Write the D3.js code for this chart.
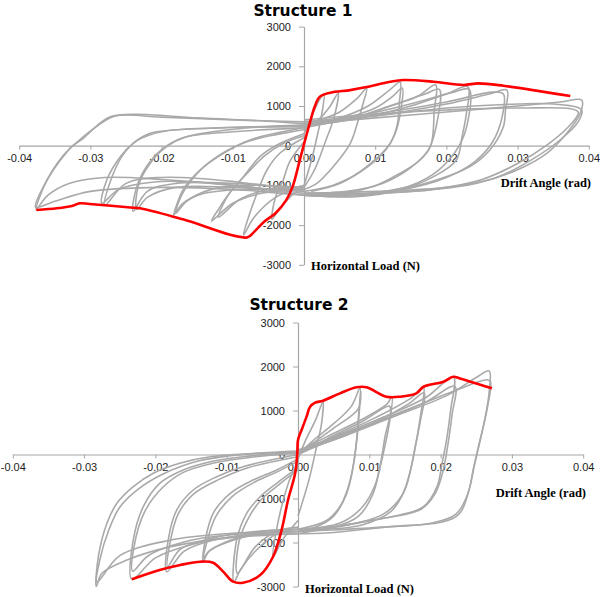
<!DOCTYPE html>
<html>
<head>
<meta charset="utf-8">
<script src="https://cdn.jsdelivr.net/npm/d3@7"></script>
<style>
  body { margin: 0; background: #fff; }
  svg { display: block; }
</style>
</head>
<body>
<svg width="600" height="597"></svg>
<script>

// tick values and labels (shared by both panels)
var xTicks = [-0.04, -0.03, -0.02, -0.01, 0, 0.01, 0.02, 0.03, 0.04];
var xTickLabels = ["-0.04", "-0.03", "-0.02", "-0.01", "0.00", "0.01", "0.02", "0.03", "0.04"];
var yTicks = [-3000, -2000, -1000, 0, 1000, 2000, 3000];
var yTickLabels = ["-3000", "-2000", "-1000", "0", "1000", "2000", "3000"];

// Structure 1 : half cycles [drift (rad), load (N)]
var s1Pos = [
  [[0,300],[0.001,700],[0.002,1100],[0.0028,1300],[0.0025,800],[0.0018,200],[0.001,-400],[0,-1000]],
  [[0,400],[0.002,650],[0.0035,950],[0.0048,1320],[0.0042,700],[0.003,100],[0.0015,-600],[0,-1050]],
  [[0,450],[0.002,630],[0.005,850],[0.0075,1200],[0.0088,1445],[0.0082,1000],[0.0076,630],[0.0065,60],[0.0041,-528],[0.0018,-947],[0,-1100]],
  [[0,500],[0.005,700],[0.009,1000],[0.012,1400],[0.0135,1600],[0.0134,1100],[0.0131,530],[0.0121,60],[0.0088,-528],[0.0051,-947],[0.001,-1150]],
  [[0,450],[0.005,650],[0.01,950],[0.0125,1250],[0.0138,1450],[0.0136,900],[0.0128,300],[0.0115,-100],[0.008,-650],[0.004,-1000],[0,-1150]],
  [[0,500],[0.006,650],[0.012,1000],[0.016,1250],[0.0185,1530],[0.0183,900],[0.0178,0],[0.0163,-360],[0.0135,-695],[0.0097,-1030],[0.0051,-1200],[0,-1200]],
  [[0,500],[0.007,700],[0.013,1050],[0.017,1300],[0.019,1420],[0.0188,700],[0.0175,-100],[0.015,-550],[0.011,-950],[0.006,-1150],[0,-1200]],
  [[0,500],[0.008,700],[0.015,1000],[0.02,1300],[0.023,1486],[0.0228,800],[0.0222,227],[0.0214,-360],[0.0182,-780],[0.0135,-1115],[0.0074,-1285],[0,-1250]],
  [[0,550],[0.009,800],[0.016,1100],[0.021,1350],[0.0232,1420],[0.023,600],[0.0218,0],[0.019,-600],[0.015,-1000],[0.009,-1200],[0,-1250]],
  [[0,550],[0.01,750],[0.02,1050],[0.026,1300],[0.0285,1400],[0.0283,900],[0.028,478],[0.0261,-108],[0.0233,-528],[0.0186,-864],[0.0121,-1158],[0.0051,-1285],[0,-1250]],
  [[0,600],[0.01,800],[0.02,1100],[0.0265,1350],[0.028,1300],[0.0278,700],[0.0265,100],[0.024,-400],[0.02,-800],[0.014,-1100],[0.006,-1250],[0,-1250]],
  [[0,550],[0.01,700],[0.02,850],[0.03,1000],[0.036,1100],[0.039,1150],[0.0388,815],[0.0369,312],[0.0341,-191],[0.0299,-612],[0.0243,-947],[0.0177,-1115],[0.0097,-1200],[0,-1250]],
  [[0,600],[0.01,750],[0.02,950],[0.03,1050],[0.035,1050],[0.039,900],[0.0385,600],[0.036,150],[0.032,-350],[0.027,-800],[0.02,-1050],[0.01,-1150],[0,-1200]],
  [[0,650],[0.01,800],[0.02,900],[0.03,950],[0.0385,850],[0.037,450],[0.034,0],[0.03,-450],[0.025,-850],[0.018,-1100],[0.01,-1200],[0,-1200]]
];
var s1Neg = [
  [[0,-1000],[-0.002,-1300],[-0.0035,-1600],[-0.0045,-1850],[-0.004,-1300],[-0.003,-900],[-0.002,-400],[0,100]],
  [[0,-1000],[-0.004,-1300],[-0.007,-1800],[-0.0085,-2250],[-0.0078,-1800],[-0.0066,-1200],[-0.0052,-612],[-0.0034,-191],[0,200]],
  [[0,-1100],[-0.006,-1200],[-0.01,-1450],[-0.013,-1900],[-0.012,-1600],[-0.0109,-1300],[-0.0085,-780],[-0.0062,-277],[-0.0038,18],[0,300]],
  [[0,-1050],[-0.005,-1100],[-0.009,-1350],[-0.012,-1800],[-0.0105,-1200],[-0.008,-700],[-0.0055,-250],[-0.003,50],[0,250]],
  [[0,-1100],[-0.008,-1100],[-0.014,-1200],[-0.017,-1450],[-0.0183,-1750],[-0.0178,-1450],[-0.017,-1115],[-0.0146,-612],[-0.0113,-191],[-0.0076,144],[0,450]],
  [[0,-1050],[-0.008,-1000],[-0.013,-1100],[-0.0165,-1400],[-0.018,-1700],[-0.0172,-1250],[-0.015,-700],[-0.012,-250],[-0.008,100],[0,400]],
  [[0,-1150],[-0.01,-1050],[-0.018,-1050],[-0.022,-1300],[-0.0235,-1600],[-0.0233,-1030],[-0.0216,-443],[-0.0193,-25],[-0.0165,227],[-0.0086,438],[0,520]],
  [[0,-1100],[-0.01,-950],[-0.018,-950],[-0.022,-1150],[-0.024,-1650],[-0.0236,-1100],[-0.0222,-550],[-0.02,-100],[-0.017,200],[-0.01,350],[0,450]],
  [[0,-1200],[-0.01,-1000],[-0.02,-900],[-0.026,-1100],[-0.0284,-1450],[-0.0277,-864],[-0.0258,-277],[-0.024,60],[-0.0216,312],[-0.0132,438],[0,500]],
  [[0,-1150],[-0.01,-900],[-0.02,-800],[-0.025,-950],[-0.028,-1500],[-0.0272,-900],[-0.0255,-250],[-0.0235,120],[-0.02,350],[-0.012,450],[0,480]],
  [[0,-1250],[-0.01,-1000],[-0.02,-850],[-0.028,-800],[-0.033,-950],[-0.036,-1250],[-0.0376,-1600],[-0.0361,-864],[-0.0329,-65],[-0.031,186],[-0.0287,564],[-0.0272,730],[-0.024,790],[-0.015,700],[-0.0038,605],[0,550]],
  [[0,-1250],[-0.01,-1100],[-0.02,-1050],[-0.03,-1150],[-0.035,-1400],[-0.0377,-1550],[-0.0365,-1000],[-0.0335,-200],[-0.0315,150],[-0.029,500],[-0.0265,750],[-0.02,720],[-0.01,650],[0,600]]
];
var s1Envelope = [[-0.0376,-1620],[-0.0347,-1577],[-0.0326,-1519],[-0.0315,-1451],[-0.0301,-1469],[-0.024,-1561],[-0.023,-1577],
  [-0.017,-1854],[-0.008,-2310],[-0.007,-2170],[-0.0056,-1915],[-0.004,-1700],[-0.0025,-1370],[-0.0016,-1030],[-0.0005,-300],
  [0.0008,560],[0.0015,980],[0.0022,1230],[0.0037,1335],[0.0065,1400],[0.0086,1470],[0.0121,1612],[0.014,1655],
  [0.0182,1612],[0.0224,1530],[0.0245,1570],[0.028,1510],[0.0374,1250]];

// Structure 2 : half cycles [drift (rad), load (N)]
var s2Pos = [
  [[0,-100],[0.001,300],[0.0025,800],[0.0035,1200],[0.0033,700],[0.0025,100],[0.0015,-600],[0,-1400]],
  [[0,0],[0.002,300],[0.005,700],[0.0075,1100],[0.0087,1515],[0.0085,900],[0.0082,300],[0.0077,-300],[0.0068,-900],[0.005,-1400],[0.0025,-1650],[0,-1750]],
  [[0,0],[0.002,250],[0.005,600],[0.0085,1050],[0.0088,1450],[0.0084,600],[0.008,0],[0.0073,-600],[0.006,-1150],[0.004,-1500],[0,-1700]],
  [[0,50],[0.004,400],[0.009,800],[0.0125,1150],[0.0132,1314],[0.0128,700],[0.0122,200],[0.0115,-300],[0.0105,-900],[0.0085,-1400],[0.005,-1650],[0,-1750]],
  [[0,0],[0.004,350],[0.009,750],[0.0128,1100],[0.013,1000],[0.0122,400],[0.0117,-100],[0.0108,-700],[0.009,-1200],[0.006,-1550],[0,-1700]],
  [[0,50],[0.005,400],[0.011,850],[0.016,1300],[0.0176,1540],[0.0172,900],[0.0166,300],[0.016,-200],[0.015,-800],[0.013,-1300],[0.009,-1600],[0.004,-1700],[0,-1750]],
  [[0,0],[0.005,350],[0.011,750],[0.0155,1150],[0.0177,1400],[0.0172,800],[0.0164,150],[0.0157,-400],[0.0145,-950],[0.012,-1350],[0.007,-1600],[0,-1700]],
  [[0,50],[0.006,450],[0.012,850],[0.018,1300],[0.0218,1768],[0.0214,1000],[0.0208,300],[0.0202,-200],[0.0195,-730],[0.0176,-1186],[0.0143,-1375],[0.0083,-1550],[0,-1800]],
  [[0,50],[0.006,400],[0.012,800],[0.018,1200],[0.022,1550],[0.0216,900],[0.021,200],[0.0203,-400],[0.0192,-900],[0.0172,-1250],[0.012,-1450],[0.005,-1650],[0,-1750]],
  [[0,50],[0.007,450],[0.014,900],[0.021,1350],[0.025,1750],[0.0268,1900],[0.0268,1400],[0.0262,800],[0.0252,100],[0.0245,-400],[0.0241,-730],[0.0227,-1337],[0.0204,-1527],[0.0129,-1640],[0.0035,-1790],[0,-1800]],
  [[0,100],[0.008,550],[0.015,1000],[0.022,1450],[0.0265,1700],[0.027,1650],[0.0266,1100],[0.0258,500],[0.0248,-200],[0.0238,-900],[0.0222,-1350],[0.019,-1550],[0.012,-1650],[0,-1750]]
];
var s2Neg = [
  [[0,-1500],[-0.002,-1900],[-0.0035,-2323],[-0.003,-1700],[-0.002,-1000],[-0.001,-500],[0,-200]],
  [[0,-1700],[-0.003,-1800],[-0.006,-2200],[-0.008,-2600],[-0.009,-2900],[-0.0086,-1943],[-0.0072,-1336],[-0.0053,-959],[-0.003,-655],[0,-300]],
  [[0,-1650],[-0.003,-1750],[-0.006,-2100],[-0.0085,-2700],[-0.0083,-2000],[-0.0068,-1400],[-0.005,-1000],[-0.0028,-700],[0,-350]],
  [[0,-1750],[-0.005,-1800],[-0.01,-2000],[-0.0125,-2200],[-0.0133,-2436],[-0.013,-1943],[-0.0119,-1336],[-0.0095,-882],[-0.0063,-580],[-0.003,-352],[0,-100]],
  [[0,-1700],[-0.005,-1750],[-0.0095,-1950],[-0.0125,-2200],[-0.0132,-2350],[-0.0128,-2000],[-0.0115,-1400],[-0.0092,-950],[-0.006,-620],[-0.003,-400],[0,-150]],
  [[0,-1750],[-0.006,-1800],[-0.012,-1950],[-0.016,-2200],[-0.0184,-2663],[-0.0182,-1943],[-0.017,-1261],[-0.0147,-807],[-0.0114,-505],[-0.0077,-277],[0,0]],
  [[0,-1700],[-0.006,-1750],[-0.012,-1900],[-0.0165,-2150],[-0.0183,-2550],[-0.018,-2050],[-0.0168,-1350],[-0.0145,-880],[-0.011,-560],[-0.007,-300],[0,-50]],
  [[0,-1800],[-0.008,-1850],[-0.015,-2050],[-0.02,-2350],[-0.0233,-2836],[-0.0231,-1943],[-0.0217,-1186],[-0.0194,-655],[-0.0161,-352],[-0.0123,-164],[-0.0077,-50],[0,50]],
  [[0,-1750],[-0.008,-1800],[-0.015,-1950],[-0.021,-2300],[-0.0232,-2650],[-0.023,-2100],[-0.0215,-1300],[-0.019,-750],[-0.016,-400],[-0.012,-200],[-0.006,-50],[0,30]],
  [[0,-1800],[-0.01,-1900],[-0.018,-2100],[-0.024,-2400],[-0.0275,-2700],[-0.0283,-3000],[-0.028,-2323],[-0.0268,-1564],[-0.0254,-1110],[-0.0231,-732],[-0.0203,-427],[-0.0166,-200],[-0.0123,-50],[0,50]],
  [[0,-1750],[-0.01,-1800],[-0.018,-1950],[-0.025,-2300],[-0.0282,-2900],[-0.0278,-2400],[-0.0265,-1700],[-0.025,-1200],[-0.0225,-800],[-0.019,-450],[-0.014,-150],[-0.008,0],[0,80]]
];
var s2Envelope = [[-0.0233,-2836],[-0.0194,-2625],[-0.0165,-2511],[-0.0137,-2436],[-0.0119,-2460],[-0.0105,-2663],[-0.0091,-2890],
  [-0.0077,-2914],[-0.0053,-2739],[-0.0035,-2323],[-0.0023,-1716],[-0.0014,-1034],[-0.0004,-427],[-0.0001,27],
  [0,330],[0.0005,557],[0.0012,860],[0.0017,1086],[0.0024,1177],[0.0035,1223],[0.0059,1390],[0.0082,1527],[0.0096,1527],
  [0.0124,1314],[0.0143,1314],[0.0166,1390],[0.0176,1540],[0.0204,1655],[0.0218,1768],[0.0227,1730],[0.0272,1505]];

var svg = d3.select("svg");

var panels = [
  { title: "Structure 1", titleX: 303, titleY: 15.5,
    xRange: [19.2, 588.8], yRange: [264.8, 26.6],
    xLabelX: 591, xLabelY: 187, yLabelX: 311, yLabelY: 269.5,
    pos: s1Pos, neg: s1Neg, env: s1Envelope },
  { title: "Structure 2", titleX: 299, titleY: 309.5,
    xRange: [12.8, 583.2], yRange: [586.5, 322.5],
    xLabelX: 586, xLabelY: 497, yLabelX: 305, yLabelY: 593,
    pos: s2Pos, neg: s2Neg, env: s2Envelope }
];

panels.forEach(function(p) {
  var x = d3.scaleLinear().domain([-0.04, 0.04]).range(p.xRange);
  var y = d3.scaleLinear().domain([-3000, 3000]).range(p.yRange);
  var g = svg.append("g");

  var xAxis = g.append("g")
      .attr("transform", "translate(0," + y(0) + ")")
      .call(d3.axisBottom(x).tickValues(xTicks).tickSize(4).tickSizeOuter(0).tickPadding(5)
        .tickFormat(function(d, i) { return xTickLabels[i]; }));
  var yAxis = g.append("g")
      .attr("transform", "translate(" + x(0) + ",0)")
      .call(d3.axisLeft(y).tickValues(yTicks).tickSize(5).tickSizeOuter(0).tickPadding(8)
        .tickFormat(function(d, i) { return yTickLabels[i]; }));

  [xAxis, yAxis].forEach(function(a) {
    a.select(".domain").attr("stroke", "#a6a6a6").attr("stroke-width", 1.2);
    a.selectAll(".tick line").attr("stroke", "#a6a6a6");
    a.selectAll(".tick text").attr("fill", "#222")
      .style("font-family", "'Liberation Sans', Arial, sans-serif").style("font-size", "11px");
  });

  var line = d3.line()
      .x(function(d) { return x(d[0]); })
      .y(function(d) { return y(d[1]); })
      .curve(d3.curveCatmullRom.alpha(0.5));

  g.append("g").selectAll("path")
      .data(p.pos.concat(p.neg))
      .enter().append("path")
      .attr("d", line)
      .attr("fill", "none")
      .attr("stroke", "#a9a9a9")
      .attr("stroke-width", 1.6);

  g.append("path")
      .attr("d", line(p.env))
      .attr("fill", "none")
      .attr("stroke", "#ff0000")
      .attr("stroke-width", 2.6)
      .attr("stroke-linejoin", "round");

  g.append("text")
      .attr("x", p.titleX).attr("y", p.titleY)
      .attr("text-anchor", "middle")
      .style("font-family", "'DejaVu Sans', sans-serif")
      .style("font-weight", "bold").style("font-size", "15.5px")
      .text(p.title);

  g.append("text")
      .attr("x", p.xLabelX).attr("y", p.xLabelY)
      .attr("text-anchor", "end")
      .style("font-family", "'Liberation Serif', 'Times New Roman', serif")
      .style("font-weight", "bold").style("font-size", "12.5px")
      .text("Drift Angle (rad)");

  g.append("text")
      .attr("x", p.yLabelX).attr("y", p.yLabelY)
      .style("font-family", "'Liberation Serif', 'Times New Roman', serif")
      .style("font-weight", "bold").style("font-size", "12.5px")
      .text("Horizontal Load (N)");
});

</script>
</body>
</html>
